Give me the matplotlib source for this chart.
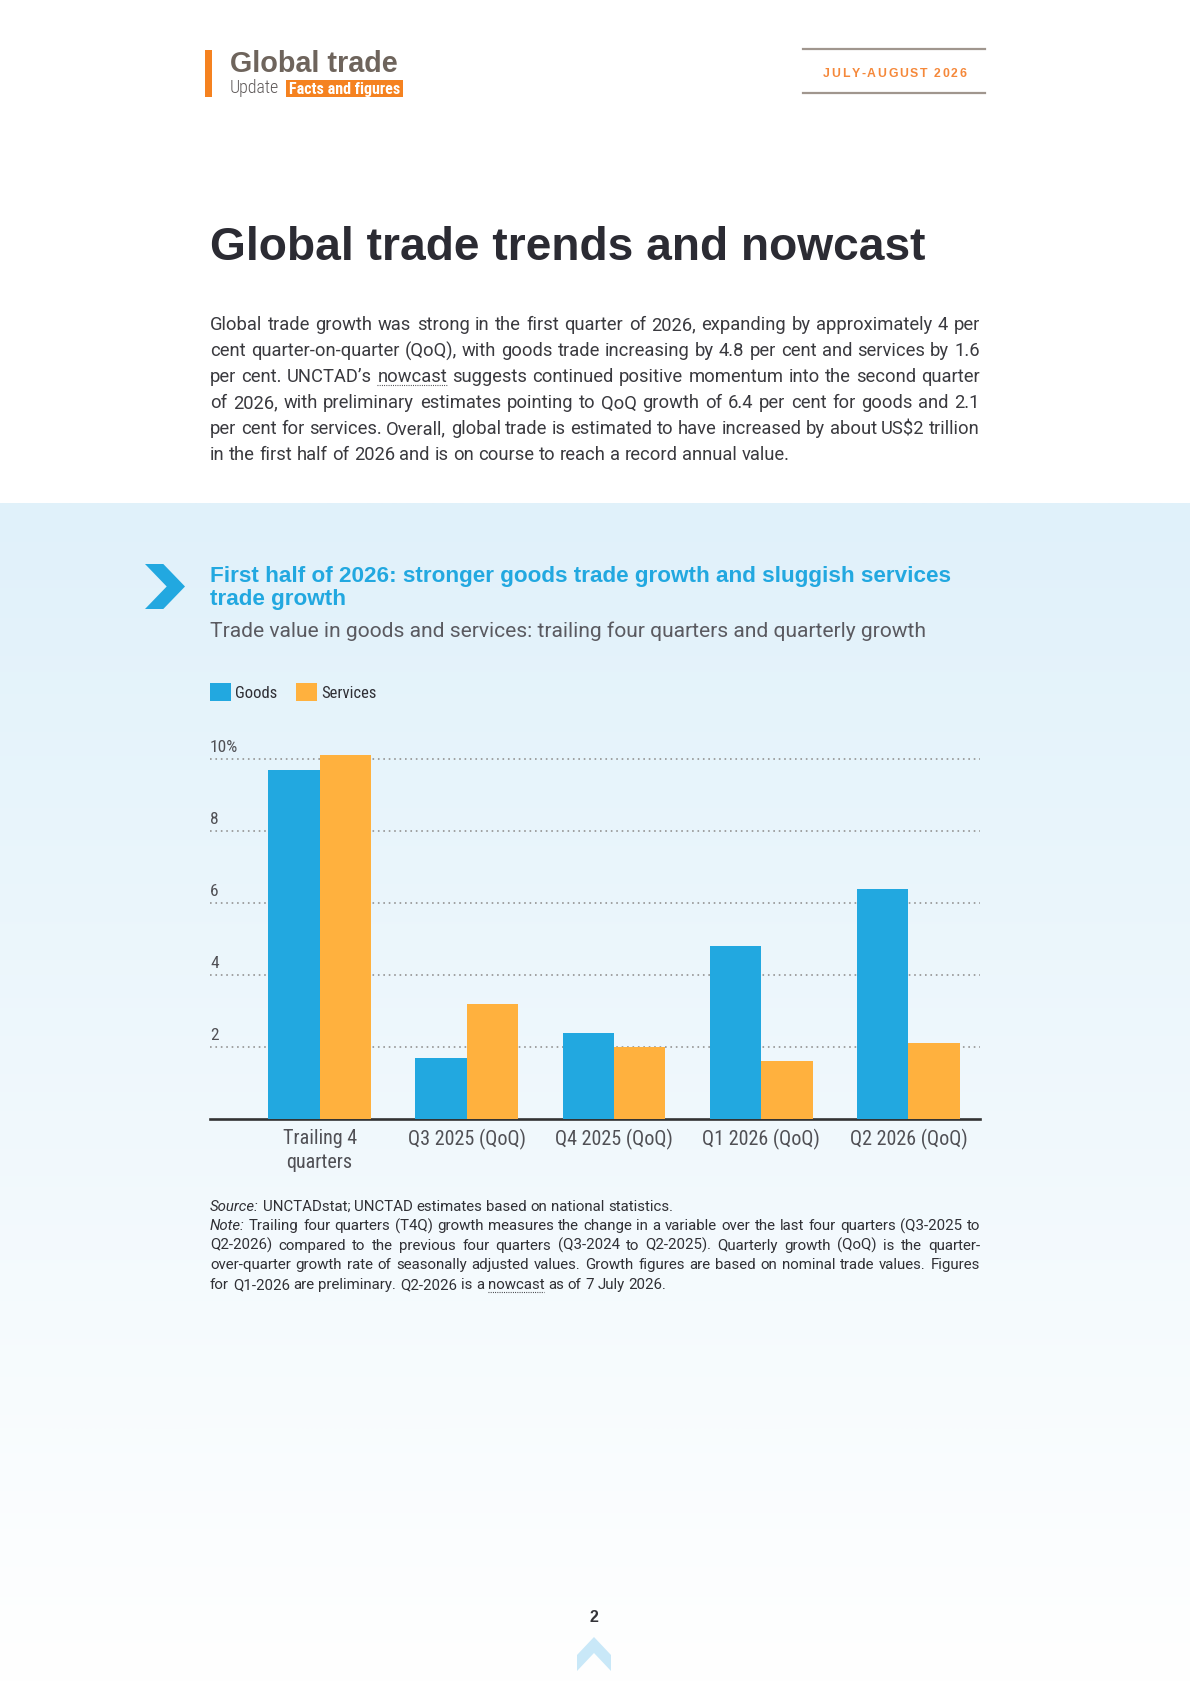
"""
UNCTAD Global trade update, page 2: goods vs services growth bar chart.
"""
import matplotlib
matplotlib.use('Agg')
import matplotlib.pyplot as plt
import matplotlib.font_manager as fm
from matplotlib.patches import Polygon, Rectangle
import numpy as np


# ============================================================
# FONTS
# ============================================================
def find_font(*names):
    available = {f.name for f in fm.fontManager.ttflist}
    for name in names:
        if name in available:
            return name
    return names[-1]


FONT_HEAD = find_font('Liberation Sans', 'Arimo', 'DejaVu Sans')
FONT_LIGHT = find_font('Roboto', 'Open Sans', 'DejaVu Sans')
FONT_COND = find_font('Roboto Condensed', 'Liberation Sans Narrow', 'Roboto')


# ============================================================
# COLOURS
# ============================================================
C = {
    'orange': '#F58220',
    'orange_txt': '#F5883A',
    'head_grey': '#6E645C',
    'rule': '#A0968E',
    'title': '#2B2B33',
    'body': '#3A3A3F',
    'blue': '#22A8E0',
    'amber': '#FFB13E',
    'sub': '#5A5A60',
    'tick': '#505055',
    'grid': '#9A9A9A',
    'axis': '#333333',
    'band_top': '#E0F1FA',
    'chev_light': '#C9E8F8',
}


# ============================================================
# DATA
# ============================================================
categories = ['Trailing 4\nquarters', 'Q3 2025 (QoQ)', 'Q4 2025 (QoQ)',
              'Q1 2026 (QoQ)', 'Q2 2026 (QoQ)']
series_names = ['Goods', 'Services']
goods = [9.7, 1.7, 2.4, 4.8, 6.4]
services = [10.1, 3.2, 2.0, 1.6, 2.1]
y_ticks = [2, 4, 6, 8, 10]
y_tick_labels = ['2', '4', '6', '8', '10%']

body_lines = [
    'Global trade growth was strong in the first quarter of 2026, expanding by approximately 4 per',
    'cent quarter-on-quarter (QoQ), with goods trade increasing by 4.8 per cent and services by 1.6',
    'per cent. UNCTAD\u2019s nowcast suggests continued positive momentum into the second quarter',
    'of 2026, with preliminary estimates pointing to QoQ growth of 6.4 per cent for goods and 2.1',
    'per cent for services. Overall, global trade is estimated to have increased by about US$2 trillion',
    'in the first half of 2026 and is on course to reach a record annual value.',
]
note_lines = [
    'Source: UNCTADstat; UNCTAD estimates based on national statistics.',
    'Note: Trailing four quarters (T4Q) growth measures the change in a variable over the last four quarters (Q3-2025 to',
    'Q2-2026) compared to the previous four quarters (Q3-2024 to Q2-2025). Quarterly growth (QoQ) is the quarter-',
    'over-quarter growth rate of seasonally adjusted values. Growth figures are based on nominal trade values. Figures',
    'for Q1-2026 are preliminary. Q2-2026 is a nowcast as of 7 July 2026.',
]


# ============================================================
# FIGURE + PIXEL CANVAS (1 unit = 1 px, y down)
# ============================================================
W, H = 1190, 1683
fig = plt.figure(figsize=(W / 100, H / 100), dpi=100, facecolor='white')
bg = fig.add_axes([0, 0, 1, 1])
bg.axis('off')

# light blue band fading to white
BAND_TOP = 504
top_rgb = np.array(matplotlib.colors.to_rgb(C['band_top']))
t = np.linspace(0, 1, 400)[:, None]
grad = top_rgb + (1 - top_rgb) * t
bg.imshow(grad[:, None, :].repeat(2, axis=1), extent=(0, W, H, BAND_TOP),
          aspect='auto', interpolation='bilinear', zorder=0)
bg.set_xlim(0, W)
bg.set_ylim(H, 0)

renderer = fig.canvas.get_renderer()


def width_of(artist):
    return artist.get_window_extent(renderer=renderer).width


def fit_text(x, y, s, target_w, size, **kw):
    """Place text and rescale font so it spans target_w pixels."""
    a = bg.text(x, y, s, fontsize=size, va='baseline', ha='left', **kw)
    a.set_fontsize(size * target_w / width_of(a))
    return a


def tracked_text(xc, y, s, target_w, size, **kw):
    """Letter-spaced text centred on xc with total width target_w."""
    arts = [bg.text(0, y, ch, fontsize=size, va='baseline', ha='left', **kw)
            for ch in s]
    ws = [width_of(a) for a in arts]
    track = (target_w - sum(ws)) / (len(s) - 1)
    x = xc - target_w / 2
    for a, w in zip(arts, ws):
        a.set_x(x)
        x += w + track


def space_width(size, **kw):
    a = bg.text(0, 0, 'x x', fontsize=size, **kw)
    b = bg.text(0, 0, 'xx', fontsize=size, **kw)
    w = width_of(a) - width_of(b)
    a.remove()
    b.remove()
    return w


def paragraph(lines, x0, x1, y0, step, size, color, family, weight='normal',
              italic_words=(), underline_words=(), left_lines=()):
    # shrink font until every line fits naturally
    probe = [bg.text(0, 0, ln, fontsize=size, family=family, weight=weight)
             for ln in lines]
    worst = max(width_of(p) for p in probe)
    for p in probe:
        p.remove()
    if worst > (x1 - x0):
        size *= (x1 - x0) / worst * 0.995
    sp = space_width(size, family=family, weight=weight)

    for i, ln in enumerate(lines):
        y = y0 + i * step
        words = ln.split(' ')
        arts = []
        for j, w in enumerate(words):
            style = 'italic' if (j == 0 and w in italic_words) else 'normal'
            arts.append(bg.text(x0, y, w, fontsize=size, family=family,
                                weight=weight, style=style, color=color,
                                va='baseline', ha='left', zorder=5))
        ws = [width_of(a) for a in arts]
        if i in left_lines or i == len(lines) - 1 or len(arts) == 1:
            gap = sp
        else:
            gap = (x1 - x0 - sum(ws)) / (len(arts) - 1)
        x = x0
        for a, w, word in zip(arts, ws, words):
            a.set_x(x)
            if word.strip('.,') in underline_words:
                bg.plot([x, x + w], [y + 3.5, y + 3.5], color=color, lw=0.8,
                        ls=(0, (0.8, 1.2)), zorder=5)
            x += w + gap


# ============================================================
# HEADER
# ============================================================
bg.add_patch(Rectangle((205, 51), 7, 46.5, color=C['orange'], lw=0, zorder=3))
fit_text(230, 71.7, 'Global trade', 168, 19, family=FONT_HEAD,
         weight='bold', color=C['head_grey'])
fit_text(230, 93.3, 'Update', 49, 13, family=FONT_COND, weight='light',
         color='#5F5A5A')
bg.add_patch(Rectangle((285.7, 81), 117.6, 16.7, color=C['orange'], lw=0,
                       zorder=3))
fit_text(289, 94.2, 'Facts and figures', 111, 10.5, family=FONT_COND,
         weight='bold', color='white', zorder=4)

for yy in (50, 94):
    bg.plot([803, 985], [yy, yy], color=C['rule'], lw=1.6, zorder=3)
tracked_text(894.7, 76.7, 'JULY-AUGUST 2026', 143, 8.8, family=FONT_HEAD,
             weight='bold', color=C['orange_txt'])

# ============================================================
# TITLE + INTRO
# ============================================================
fit_text(210, 260, 'Global trade trends and nowcast', 714, 31,
         family=FONT_HEAD, weight='bold', color=C['title'])

paragraph(body_lines, 210, 980, 330.5, 26, 13.8, C['body'], FONT_LIGHT,
          weight='normal', underline_words=('nowcast',))

# ============================================================
# CHART HEADER
# ============================================================
bg.add_patch(Polygon([(145, 565), (163.3, 565), (185, 587.5), (163.3, 610),
                      (145, 610), (166.7, 587.5)], closed=True,
                     color=C['blue'], lw=0, zorder=3))
t1 = fit_text(210, 581.7,
              'First half of 2026: stronger goods trade growth and sluggish services',
              743.5, 15, family=FONT_HEAD, weight='bold', color=C['blue'])
bg.text(210, 605.5, 'trade growth', fontsize=t1.get_fontsize(),
        family=FONT_HEAD, weight='bold', color=C['blue'], va='baseline')
fit_text(210, 637.3,
         'Trade value in goods and services: trailing four quarters and quarterly growth',
         721, 14, family=FONT_LIGHT, weight='normal', color=C['sub'])

# ============================================================
# BAR CHART
# ============================================================
ax_top, ax_bot, ax_l, ax_r = 700, 1120, 210, 980
ax = fig.add_axes([ax_l / W, 1 - ax_bot / H, (ax_r - ax_l) / W,
                   (ax_bot - ax_top) / H])
ax.patch.set_alpha(0)
px_per_unit = 36.0
ax.set_ylim(0, (ax_bot - ax_top) / px_per_unit)
ax.set_xlim(-0.745, 4.486)

x = np.arange(len(categories))
bw = 0.349
b1 = ax.bar(x - bw / 2, goods, width=bw, color=C['blue'], lw=0, zorder=3,
            label=series_names[0])
b2 = ax.bar(x + bw / 2, services, width=bw, color=C['amber'], lw=0, zorder=3,
            label=series_names[1])

for v in y_ticks:
    ax.axhline(v, color=C['grid'], lw=1.3, ls=(0, (0.9, 2.1)), zorder=1)
for v, lab in zip(y_ticks, y_tick_labels):
    ax.annotate(lab, xy=(0, v), xycoords=('axes fraction', 'data'),
                xytext=(0, 5.5), textcoords='offset points', va='baseline',
                ha='left', fontsize=12.5, family=FONT_COND, color=C['tick'])

ax.set_yticks([])
for s in ('top', 'left', 'right'):
    ax.spines[s].set_visible(False)
ax.spines['bottom'].set_color(C['axis'])
ax.spines['bottom'].set_linewidth(1.9)
ax.set_xticks(x)
ax.set_xticklabels(categories, fontsize=14.5, family=FONT_COND,
                   color=C['tick'], linespacing=1.35)
ax.tick_params(axis='x', length=0, pad=6.5)

leg = ax.legend(handles=[b1, b2], loc='upper left', ncol=2, frameon=False,
                bbox_to_anchor=(210 / W, 1 - 684 / H),
                bbox_transform=fig.transFigure, borderaxespad=0, borderpad=0,
                handlelength=1.25, handleheight=1.25, handletextpad=0.28,
                columnspacing=1.1,
                prop={'family': FONT_COND, 'size': 12})
for txt in leg.get_texts():
    txt.set_color('#2F2F35')

# ============================================================
# SOURCE / NOTE
# ============================================================
paragraph(note_lines, 210, 980, 1211, 19.5, 11.4, '#303035', FONT_LIGHT,
          weight='normal', italic_words=('Source:', 'Note:'),
          underline_words=('nowcast',), left_lines=(0,))

# ============================================================
# FOOTER
# ============================================================
bg.text(594, 1622, '2', fontsize=11.5, family=FONT_HEAD, weight='bold',
        color='#333338', ha='center', va='baseline')
bg.add_patch(Polygon([(577, 1656), (594, 1638), (611, 1656), (611, 1672),
                      (594, 1654), (577, 1672)], closed=True,
                     color=C['chev_light'], lw=0, zorder=3))

fig.savefig('out.png', dpi=100, facecolor='white')
plt.close(fig)
